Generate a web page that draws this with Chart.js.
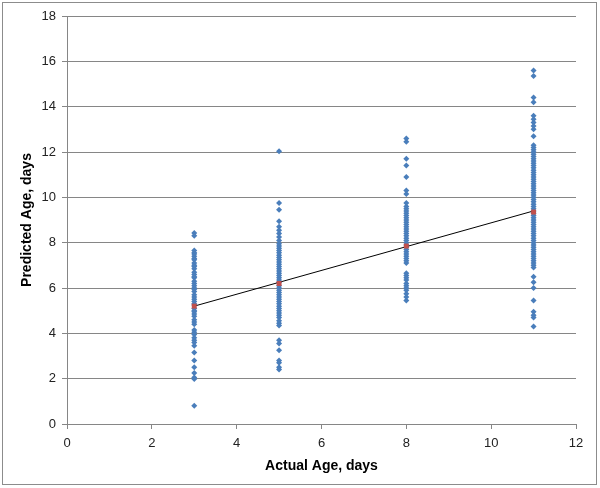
<!DOCTYPE html>
<html>
<head>
<meta charset="utf-8">
<script src="https://cdn.jsdelivr.net/npm/chart.js@4/dist/chart.umd.min.js"></script>
<style>
  html, body { margin: 0; padding: 0; background: #fff; }
  #wrap { width: 600px; height: 488px; }
</style>
</head>
<body>
<div id="wrap"><canvas id="ageChart"></canvas></div>
<script>
// valores
const groups = [3, 5, 8, 11];
const age3 = [8.43, 8.3, 7.65, 7.55, 7.5, 7.4, 7.3, 7.25, 7.1, 7.0, 6.95, 6.85, 6.7, 6.6, 6.5, 6.45, 6.3, 6.2, 6.1, 6.0, 5.95, 5.85, 5.7, 5.6, 5.5, 5.4, 5.3, 5.25, 5.1, 5.0, 4.95, 4.85, 4.75, 4.6, 4.5, 4.4, 4.15, 4.05, 3.95, 3.8, 3.7, 3.6, 3.45, 3.15, 2.8, 2.5, 2.25, 2.05, 1.98, 0.8];
const age5 = [12.03, 9.75, 9.45, 8.95, 8.7, 8.55, 8.4, 8.25, 8.1, 7.95, 7.85, 7.75, 7.65, 7.55, 7.45, 7.35, 7.25, 7.15, 7.05, 6.95, 6.85, 6.75, 6.65, 6.55, 6.45, 6.35, 6.25, 6.1, 6.0, 5.9, 5.8, 5.7, 5.6, 5.5, 5.4, 5.3, 5.2, 5.1, 5.0, 4.9, 4.8, 4.7, 4.55, 4.45, 4.35, 3.7, 3.55, 3.25, 2.8, 2.7, 2.5, 2.4];
const age8 = [12.6, 12.45, 11.7, 11.4, 10.9, 10.3, 10.15, 9.75, 9.6, 9.5, 9.4, 9.3, 9.2, 9.1, 9.0, 8.9, 8.8, 8.7, 8.6, 8.5, 8.4, 8.3, 8.2, 8.1, 8.0, 7.9, 7.8, 7.7, 7.6, 7.5, 7.4, 7.3, 7.2, 7.1, 6.65, 6.55, 6.45, 6.35, 6.2, 6.1, 6.0, 5.9, 5.75, 5.6, 5.45];
const age11 = [15.6, 15.35, 14.4, 14.2, 13.6, 13.45, 13.3, 13.15, 13.0, 12.7, 12.3, 12.2, 12.1, 12.0, 11.9, 11.8, 11.7, 11.6, 11.5, 11.4, 11.3, 11.2, 11.1, 11.0, 10.9, 10.8, 10.7, 10.6, 10.5, 10.4, 10.3, 10.2, 10.1, 10.0, 9.9, 9.8, 9.7, 9.6, 9.5, 9.4, 9.3, 9.2, 9.1, 9.0, 8.9, 8.8, 8.7, 8.6, 8.5, 8.4, 8.3, 8.2, 8.1, 8.0, 7.9, 7.8, 7.7, 7.6, 7.5, 7.4, 7.3, 7.2, 7.1, 7.0, 6.9, 6.5, 6.25, 6.0, 5.45, 4.95, 4.8, 4.7, 4.3];
const means = [5.2, 6.2, 7.85, 9.35];
const trendX = [3, 11];
const trendY = [5.2, 9.4];

const predicted = [age3, age5, age8, age11];
const allPoints = [];
groups.forEach(function (g, i) {
    predicted[i].forEach(function (v) { allPoints.push({ x: g, y: v }); });
});

// moldura cinza em volta do grafico
const frame = {
    id: "frame",
    afterDraw(chart) {
        const ctx = chart.ctx;
        ctx.save();
        ctx.strokeStyle = "#8c8c8c";
        ctx.lineWidth = 1;
        ctx.strokeRect(2.5, 2.5, 594, 482);
        ctx.restore();
    }
};

new Chart(document.getElementById("ageChart"), {
    type: "scatter",
    data: {
        datasets: [
            {
                label: "Mean",
                data: groups.map(function (g, i) { return { x: g, y: means[i] }; }),
                backgroundColor: "#c0504d",
                borderColor: "#c0504d",
                pointStyle: "rect",
                pointRadius: 3.5,
                borderWidth: 0
            },
            {
                label: "Trend",
                type: "line",
                data: trendX.map(function (x, i) { return { x: x, y: trendY[i] }; }),
                borderColor: "#000",
                borderWidth: 1,
                pointRadius: 0,
                fill: false
            },
            {
                label: "Predicted",
                data: allPoints,
                backgroundColor: "#4a7ebb",
                borderColor: "#4a7ebb",
                pointStyle: "rectRot",
                pointRadius: 3,
                borderWidth: 0
            }
        ]
    },
    plugins: [frame],
    options: {
        responsive: true,
        maintainAspectRatio: false,
        animation: false,
        layout: { padding: { left: 0, right: 24, top: 16, bottom: 0 } },
        plugins: {
            legend: { display: false },
            tooltip: { enabled: false }
        },
        scales: {
            x: {
                type: "linear",
                min: 0,
                max: 12,
                ticks: {
                    stepSize: 2,
                    color: "#222",
                    padding: 7,
                    font: { family: "Liberation Sans", size: 13 }
                },
                grid: {
                    drawOnChartArea: false,
                    drawTicks: true,
                    tickLength: 5,
                    color: "#868686"
                },
                border: { color: "#868686" },
                title: {
                    display: true,
                    text: "Actual Age, days",
                    color: "#000",
                    font: { family: "Liberation Sans", size: 14, weight: "bold" },
                    padding: { top: 0, bottom: 13 }
                },
                afterFit(scale) { scale.height = 64; }
            },
            y: {
                min: 0,
                max: 18,
                ticks: {
                    stepSize: 2,
                    color: "#222",
                    padding: 6,
                    font: { family: "Liberation Sans", size: 13 }
                },
                grid: {
                    drawTicks: true,
                    tickLength: 5,
                    color: "#868686"
                },
                border: { color: "#868686" },
                title: {
                    display: true,
                    text: "Predicted Age, days",
                    color: "#000",
                    font: { family: "Liberation Sans", size: 14, weight: "bold" },
                    padding: { top: 19, bottom: 0 }
                },
                afterFit(scale) { scale.width = 67; }
            }
        }
    }
});
</script>
</body>
</html>
